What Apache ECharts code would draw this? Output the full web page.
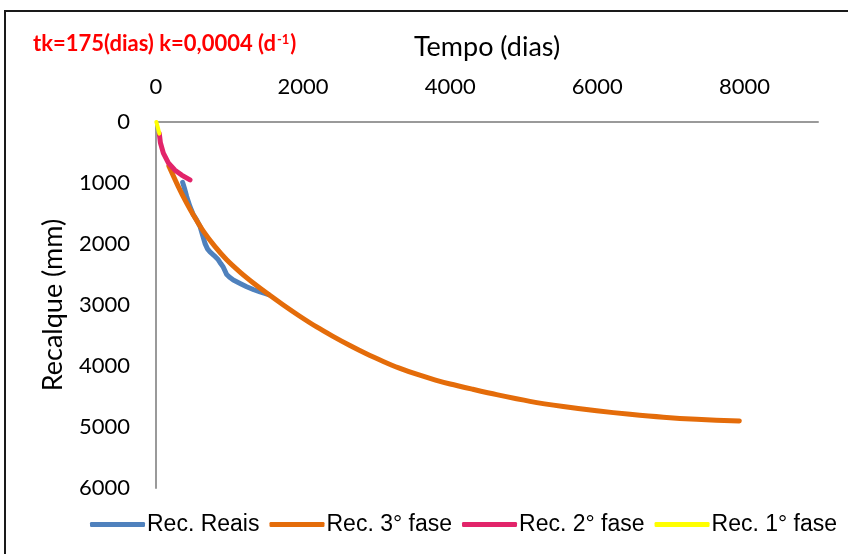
<!DOCTYPE html>
<html>
<head>
<meta charset="utf-8">
<script src="https://cdn.jsdelivr.net/npm/echarts@6/dist/echarts.min.js"></script>
<style>
  html, body { margin: 0; padding: 0; background: #fff; }
  #chart { width: 848px; height: 554px; }
</style>
</head>
<body>
<div id="chart"></div>
<script>
// Settlement (mm) against time (days), curve fits by phase
const seriesNames = ['Rec. Reais', 'Rec. 3° fase', 'Rec. 2° fase', 'Rec. 1° fase'];
const seriesColors = ['#4F81BD', '#E46C0A', '#E2246A', '#FFFF00'];

// Measured settlement: [days, mm]
const recReais = [
  [362, 990], [390, 1100], [417, 1220], [460, 1380], [507, 1520], [550, 1600],
  [598, 1710], [640, 1880], [666, 1990], [700, 2080], [734, 2130], [790, 2190],
  [847, 2260], [880, 2320], [915, 2380], [961, 2500], [1006, 2550], [1051, 2590],
  [1150, 2650], [1233, 2700], [1330, 2750], [1414, 2785], [1480, 2810], [1530, 2830]
];

// Third phase (secondary consolidation) curve
const rec3Fase = [
  [175, 720], [300, 1050], [417, 1330], [510, 1530], [643, 1790], [800, 2040],
  [961, 2260], [1150, 2470], [1323, 2640], [1505, 2805], [1731, 3000], [1950, 3180],
  [2184, 3360], [2400, 3510], [2637, 3665], [2860, 3800], [3090, 3925], [3300, 4030],
  [3544, 4135], [3800, 4230], [4000, 4295], [4300, 4380], [4631, 4470], [5084, 4580],
  [5537, 4665], [5991, 4735], [6444, 4792], [6897, 4840], [7350, 4874], [7930, 4902]
];

// Second phase curve
const rec2Fase = [
  [45, 190], [60, 340], [100, 510], [168, 670], [258, 790], [349, 870], [462, 950]
];

// First phase curve
const rec1Fase = [
  [5, 0], [25, 90], [45, 190]
];

const xTicks = { min: 0, max: 9000, interval: 2000 };
const yTicks = { min: 0, max: 6000, interval: 1000 };

const seriesData = [recReais, rec3Fase, rec2Fase, rec1Fase];

const labelFont = 'Lato, "Liberation Sans", sans-serif';
const plainNumber = v => String(v);

const chart = echarts.init(document.getElementById('chart'), null, { renderer: 'canvas' });

chart.setOption({
  backgroundColor: '#ffffff',
  animation: false,
  title: {
    left: 28,
    top: 28,
    text: '{a|tk=175(dias) k=0,0004 (d}{s|-1}{a|)}',
    textStyle: {
      rich: {
        a: { fontFamily: labelFont, fontWeight: 'bold', fontSize: 22, color: '#FF0000' },
        s: { fontFamily: labelFont, fontWeight: 'bold', fontSize: 13, color: '#FF0000', verticalAlign: 'top', padding: [0, 1, 9, 1] }
      }
    }
  },
  graphic: [{
    type: 'rect',
    shape: { x: 5, y: 11, width: 900, height: 600 },
    style: { fill: 'none', stroke: '#1a1a1a', lineWidth: 2 },
    silent: true,
    z: 0
  }],
  legend: {
    left: 85,
    top: 508,
    itemWidth: 55,
    itemHeight: 5,
    itemGap: 10,
    icon: 'roundRect',
    textStyle: { fontFamily: '"Liberation Sans Narrow", "Liberation Sans", sans-serif', fontSize: 23, color: '#000', padding: [0, 0, 0, -3] },
    data: seriesNames
  },
  grid: { left: 156, top: 122, right: 30, bottom: 66, containLabel: false },
  xAxis: {
    type: 'value',
    position: 'top',
    min: xTicks.min, max: xTicks.max, interval: xTicks.interval,
    name: 'Tempo (dias)',
    nameLocation: 'middle',
    nameGap: 61,
    nameTextStyle: { fontFamily: labelFont, fontSize: 27, color: '#000' },
    axisLine: { onZero: false, lineStyle: { color: '#9a9a9a', width: 2 } },
    axisTick: { show: false },
    splitLine: { show: false },
    axisLabel: { showMaxLabel: false, margin: 24, fontFamily: labelFont, fontSize: 22, color: '#000', formatter: plainNumber }
  },
  yAxis: {
    type: 'value',
    inverse: true,
    min: yTicks.min, max: yTicks.max, interval: yTicks.interval,
    name: 'Recalque (mm)',
    nameLocation: 'middle',
    nameGap: 89,
    nameTextStyle: { fontFamily: labelFont, fontSize: 27, color: '#000' },
    axisLine: { onZero: false, lineStyle: { color: '#9a9a9a', width: 2 } },
    axisTick: { show: false },
    splitLine: { show: false },
    axisLabel: { margin: 26, fontFamily: labelFont, fontSize: 22, color: '#000', formatter: plainNumber }
  },
  series: seriesNames.map((name, i) => ({
    name: name,
    type: 'line',
    data: seriesData[i],
    showSymbol: false,
    symbol: 'none',
    smooth: i === 1 ? 0.25 : false,
    color: seriesColors[i],
    lineStyle: { color: seriesColors[i], width: i === 3 ? 4 : 5, cap: 'round', join: 'round' },
    z: 2 + i
  }))
});
</script>
</body>
</html>
